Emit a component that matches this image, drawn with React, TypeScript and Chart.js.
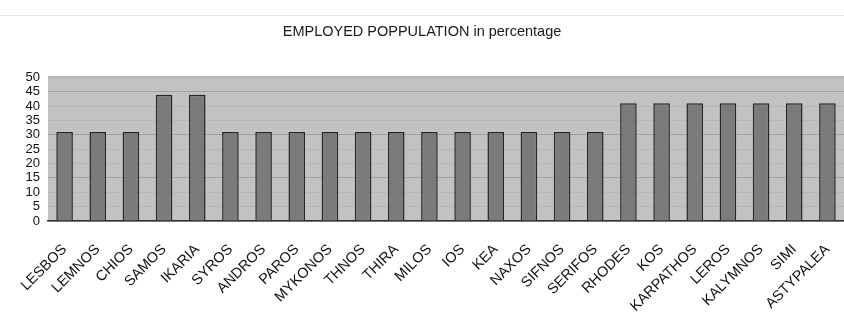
import React, { useEffect, useRef } from "react";
import { Chart, registerables } from "chart.js";

Chart.register(...registerables);

const islands = [
  "LESBOS", "LEMNOS", "CHIOS", "SAMOS", "IKARIA", "SYROS", "ANDROS", "PAROS",
  "MYKONOS", "THNOS", "THIRA", "MILOS", "IOS", "KEA", "NAXOS", "SIFNOS",
  "SERIFOS", "RHODES", "KOS", "KARPATHOS", "LEROS", "KALYMNOS", "SIMI", "ASTYPALEA",
];

const employedPct = [
  31, 31, 31, 44, 44, 31, 31, 31,
  31, 31, 31, 31, 31, 31, 31, 31,
  31, 41, 41, 41, 41, 41, 41, 41,
];

const yTickValues = [0, 5, 10, 15, 20, 25, 30, 35, 40, 45, 50];

const chartTitle = "EMPLOYED POPPULATION in percentage";

// Fills the plotting area with the grey panel behind the bars.
const panelBackground = {
  id: "panelBackground",
  beforeDraw(chart: Chart) {
    const { ctx, chartArea } = chart;
    if (!chartArea) return;
    ctx.save();
    ctx.fillStyle = "#c2c2c2";
    ctx.fillRect(chartArea.left, chartArea.top, chartArea.right - chartArea.left, chartArea.bottom - chartArea.top);
    ctx.restore();
  },
};

export default function App() {
  const canvasRef = useRef<HTMLCanvasElement | null>(null);

  useEffect(() => {
    if (!canvasRef.current) return;
    const chart = new Chart(canvasRef.current, {
      type: "bar",
      data: {
        labels: islands,
        datasets: [
          {
            data: employedPct,
            backgroundColor: "#7b7b7b",
            borderColor: "#262626",
            borderWidth: 1.5,
            borderSkipped: "bottom",
            barPercentage: 0.5,
            categoryPercentage: 1,
          },
        ],
      },
      plugins: [panelBackground],
      options: {
        responsive: false,
        animation: false,
        layout: { padding: { left: 0, right: 0, top: 0, bottom: 0 } },
        plugins: {
          legend: { display: false },
          tooltip: { enabled: false },
          title: {
            display: true,
            text: chartTitle,
            color: "#1a1a1a",
            font: { family: "Liberation Sans", size: 14.5, weight: "normal" },
            padding: { top: 23, bottom: 37 },
          },
        },
        scales: {
          x: {
            grid: { display: false },
            border: { display: true, color: "#333", width: 1.5 },
            ticks: {
              color: "#111",
              font: { family: "Liberation Sans", size: 14.5 },
              maxRotation: 45,
              minRotation: 45,
              autoSkip: false,
              padding: 12,
            },
            afterFit(scale: any) {
              scale.height = 110;
              scale.paddingRight = 0;
              scale.paddingLeft = 0;
            },
          },
          y: {
            min: 0,
            max: 50,
            afterBuildTicks(scale: any) {
              scale.ticks = yTickValues.map((v) => ({ value: v }));
            },
            grid: {
              drawTicks: false,
              color: (c: any) => (c.tick && c.tick.value % 15 === 0 && c.tick.value > 0 ? "#a2a2a2" : "#b6b6b6"),
              lineWidth: (c: any) => (c.tick && c.tick.value === 50 ? 2 : 1),
            },
            border: { display: false },
            ticks: {
              color: "#111",
              font: { family: "Liberation Sans", size: 13, lineHeight: 1 },
              autoSkip: false,
              padding: 8,
            },
            afterFit(scale: any) {
              scale.width = 48;
            },
          },
        },
      },
    });
    return () => chart.destroy();
  }, []);

  return (
    <div style={{ position: "absolute", left: 0, top: 0, width: 844, height: 331, background: "#fff" }}>
      <div style={{ position: "absolute", left: 0, top: 15, width: 844, height: 1, background: "#e6e6e6" }} />
      <canvas ref={canvasRef} width={844} height={331} style={{ position: "absolute", left: 0, top: 0 }} />
    </div>
  );
}
